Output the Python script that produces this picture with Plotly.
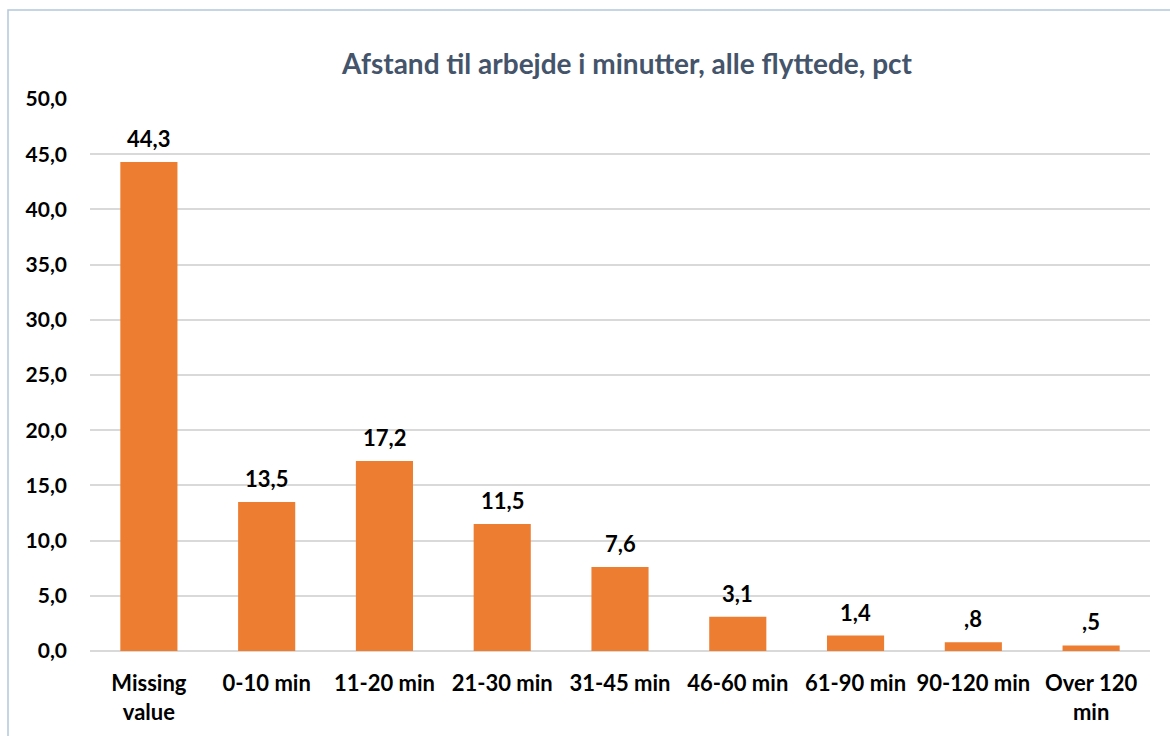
import plotly.graph_objects as go

categories = ["Missing<br>value", "0-10 min", "11-20 min", "21-30 min", "31-45 min",
              "46-60 min", "61-90 min", "90-120 min", "Over 120<br>min"]
values = [44.3, 13.5, 17.2, 11.5, 7.6, 3.1, 1.4, 0.8, 0.5]
y_ticks = [0, 5, 10, 15, 20, 25, 30, 35, 40, 45, 50]


def fmt(v):
    s = f"{v:.1f}".replace(".", ",")
    return s[1:] if s.startswith("0,") else s


labels = [fmt(v) for v in values]

FONT = "Lato, 'Open Sans', sans-serif"

fig = go.Figure(go.Bar(
    x=categories,
    y=values,
    marker=dict(color="#ED7D31", line=dict(width=0)),
    cliponaxis=False,
))

# value labels above each bar
for c, v, t in zip(categories, values, labels):
    fig.add_annotation(
        x=c, y=v, text=f"<b>{t}</b>", showarrow=False,
        yanchor="bottom", yshift=8,
        font=dict(family=FONT, size=22, color="#000000"),
    )

W, H = 1170, 736
L, R, T, B = 90, 20, 99, 85
pw, ph = W - L - R, H - T - B

fig.update_layout(
    width=W, height=H,
    margin=dict(l=L, r=R, t=T, b=B),
    paper_bgcolor="white",
    plot_bgcolor="white",
    separators=",.",
    bargap=0.515,
    showlegend=False,
    title=dict(
        text="<b>Afstand til arbejde i minutter, alle flyttede, pct</b>",
        font=dict(family=FONT, size=28, color="#44546A"),
        x=627 / W, xanchor="center",
        y=1 - 64 / H, yanchor="middle",
    ),
    font=dict(family=FONT, size=20, color="#000000"),
    yaxis=dict(
        range=[0, 50],
        tickvals=y_ticks,
        tickformat=".1f",
        showgrid=True,
        gridcolor="#D9D9D9",
        gridwidth=1.5,
        zeroline=True,
        zerolinecolor="#D9D9D9",
        zerolinewidth=1.5,
        showline=False,
        ticks="",
        ticklabelstandoff=22,
        tickfont=dict(family=FONT, size=21, color="#000000", weight="bold"),
    ),
    xaxis=dict(
        showline=False,
        ticks="",
        ticklabelstandoff=17,
        tickfont=dict(family=FONT, size=22, color="#000000", weight="bold"),
    ),
    shapes=[dict(
        type="rect", xref="paper", yref="paper",
        x0=(8 - L) / pw, x1=(W + 20 - L) / pw,
        y0=-(B + 20) / ph, y1=(H - B - 10) / ph,
        line=dict(color="#B4C7DC", width=1.5),
        fillcolor="rgba(0,0,0,0)",
        layer="below",
    )],
)

fig.write_html("out.html")
